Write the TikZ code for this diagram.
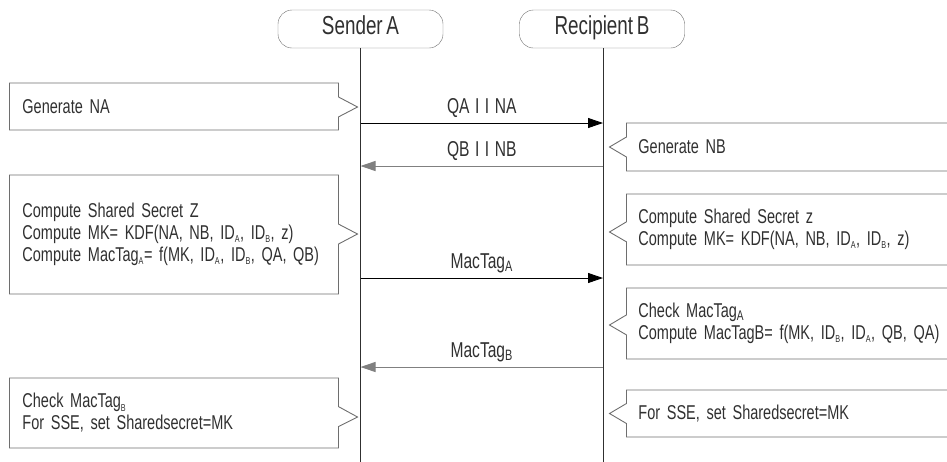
\documentclass[tikz,border=0pt]{standalone}
\usepackage{fontspec}
\setmainfont{Liberation Sans}[FakeStretch=0.725,WordSpace=0.7]
\usetikzlibrary{shapes.callouts,arrows.meta}

\definecolor{boxline}{HTML}{6E6E6E}
\definecolor{inkgray}{HTML}{303030}
\definecolor{backmsg}{HTML}{808080}

% small index letters as in the notes
\newcommand\idx[1]{\textsubscript{\fontsize{10}{10}\selectfont #1}}
% wider word space for the message labels
\newcommand\msgfont{\fontsize{21.5}{22}\selectfont\spaceskip=5.5pt\relax}

\begin{document}
\begin{tikzpicture}
		[x=1pt,y=-1pt,
		every node/.style={text=inkgray,font=\fontsize{20}{22}\selectfont},
		actor/.style={draw=boxline,rounded corners=14pt,minimum width=165pt,minimum height=38pt,inner sep=0pt,text height=15pt,text depth=4pt,font=\fontsize{26}{27}\selectfont},
		lifeline/.style={draw=inkgray,line width=1pt},
		lnote/.style={rectangle callout,draw=boxline,line width=0.9pt,callout pointer width=20pt,text width=303pt,inner xsep=13pt,align=left,anchor=west},
		rnote/.style={rectangle callout,draw=boxline,line width=0.9pt,callout pointer width=20pt,text width=500pt,inner xsep=12pt,align=left,anchor=west},
		msg/.style={draw=black,line width=0.9pt,-{Triangle[length=15pt,width=10pt]}},
		backmsg/.style={draw=backmsg,line width=0.9pt,-{Triangle[length=15pt,width=10pt]}},
		msglabel/.style={above=5pt,inner sep=0pt,font=\msgfont}]
		\useasboundingbox (0,0) rectangle (947,461);
		\clip (0,0) rectangle (947,461);
		% the two parties
		\node[actor] (sender) at (360.5,29) {Sender A};
		\node[actor] (recipient) at (602,29) {Recipient B};
		\coordinate (sendend) at (360.5,470);
		\coordinate (recend) at (603,470);
		\draw[lifeline] (sender.south) -- (sendend);
		\draw[lifeline] ([xshift=1pt]recipient.south) -- (recend);
		% message end points
		\coordinate (a1) at (360.5,123); \coordinate (b1) at (603,123);
		\coordinate (a2) at (360.5,166); \coordinate (b2) at (603,166);
		\coordinate (a3) at (360.5,278); \coordinate (b3) at (603,278);
		\coordinate (a4) at (360.5,367); \coordinate (b4) at (603,367);
		% notes of A
		\node[lnote,minimum height=47pt,callout absolute pointer={(357.5,107)}] (genNA) at (9,106.5)
			{Generate NA};
		\node[lnote,minimum height=119pt,callout absolute pointer={(357.5,234)}] (computeA) at (9,234.5)
			{Compute Shared Secret Z\\
			Compute MK= KDF(NA, NB, ID\idx{A}, ID\idx{B}, z)\\
			Compute MacTag\idx{A}= f(MK, ID\idx{A}, ID\idx{B}, QA, QB)};
		\node[lnote,minimum height=70pt,callout absolute pointer={(357.5,417)}] (checkB) at (9,413)
			{Check MacTag\idx{B}\\
			For SSE, set Sharedsecret=MK};
		% notes of B
		\node[rnote,minimum height=48pt,callout absolute pointer={(609.5,147)}] (genNB) at (626,147)
			{Generate NB};
		\node[rnote,minimum height=71pt,callout absolute pointer={(609.5,232)}] (computeB) at (626,229.5)
			{Compute Shared Secret z\\
			Compute MK= KDF(NA, NB, ID\idx{A}, ID\idx{B}, z)};
		\node[rnote,minimum height=71pt,callout absolute pointer={(609.5,325)}] (checkA) at (626,323.5)
			{Check MacTag\textsubscript{A}\\
			Compute MacTagB= f(MK, ID\idx{B}, ID\idx{A}, QB, QA)};
		\node[rnote,minimum height=47pt,callout absolute pointer={(609.5,413.5)}] (sseB) at (626,413.5)
			{For SSE, set Sharedsecret=MK};
		% messages
		\draw[msg] (a1) -- node[msglabel] {QA I I NA} (b1);
		\draw[backmsg] (b2) -- node[msglabel] {QB I I NB} (a2);
		\draw[msg] (a3) -- node[msglabel] {MacTag\textsubscript{A}} (b3);
		\draw[backmsg] (b4) -- node[msglabel] {MacTag\textsubscript{B}} (a4);
	\end{tikzpicture}
\end{document}
